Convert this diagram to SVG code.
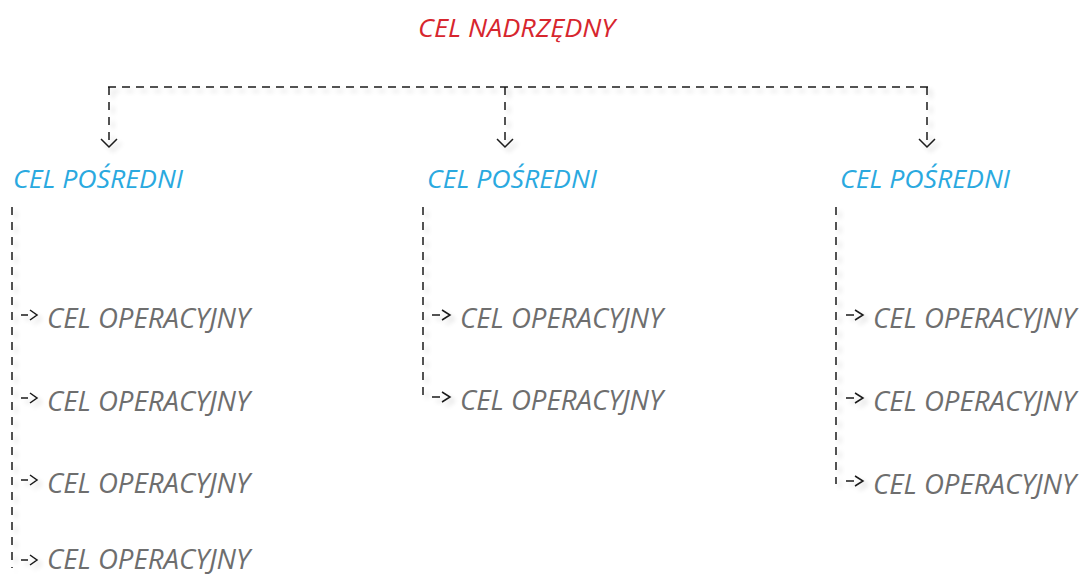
<svg xmlns="http://www.w3.org/2000/svg" width="1081" height="576" viewBox="0 0 1081 576">
<style>
.t{font-family:"Open Sans","Liberation Sans",sans-serif;font-style:italic;}
.top{fill:#d7262e;font-size:26px;}
.mid{fill:#2aa9df;font-size:25px;}
.op{fill:#6e6e6e;font-size:28px;}
.ln{fill:none;stroke:#1a1a1a;stroke-width:1.5;}
.dh{stroke-dasharray:8 6;}
.dv{stroke-dasharray:8 7;}
</style>
<defs>
<filter id="sh" x="-5%" y="-5%" width="110%" height="110%">
<feGaussianBlur in="SourceAlpha" stdDeviation="2.5"/>
<feOffset dx="4" dy="4" result="b"/>
<feComponentTransfer><feFuncA type="linear" slope="0.18"/></feComponentTransfer>
<feMerge><feMergeNode/><feMergeNode in="SourceGraphic"/></feMerge>
</filter>
</defs>
<rect width="1081" height="576" fill="#ffffff"/>
<g id="connectors" filter="url(#sh)">
<path class="ln dh" d="M108 87 H928"/>
<path class="ln dv" d="M109 87 V144"/>
<path class="ln dv" d="M505 87 V144"/>
<path class="ln dv" d="M927 87 V144"/>
<path class="ln" d="M101 139 L109 147 L117 139"/>
<path class="ln" d="M497 139 L505 147 L513 139"/>
<path class="ln" d="M919 139 L927 147 L935 139"/>
<path class="ln dv" d="M12 207 V568"/>
<path class="ln dv" d="M423 207 V399"/>
<path class="ln dv" d="M836 207 V484"/>
<g id="arrows-left">
<path class="ln" d="M21 315 H28 M30 310 L37 315 L30 320"/>
<path class="ln" d="M21 398 H28 M30 393 L37 398 L30 403"/>
<path class="ln" d="M21 480 H28 M30 475 L37 480 L30 485"/>
<path class="ln" d="M21 560 H28 M30 555 L37 560 L30 565"/>
</g>
<g id="arrows-mid">
<path class="ln" d="M432 315 H440 M442 310 L450 315 L442 320"/>
<path class="ln" d="M432 397 H440 M442 392 L450 397 L442 402"/>
</g>
<g id="arrows-right">
<path class="ln" d="M846 315 H854 M855 310 L863 315 L855 320"/>
<path class="ln" d="M846 398 H854 M855 393 L863 398 L855 403"/>
<path class="ln" d="M846 481 H854 M855 476 L863 481 L855 486"/>
</g>
</g>
<g id="cel-nadrzedny"><text class="t top" x="418" y="37" textLength="197" lengthAdjust="spacingAndGlyphs">CEL NADRZĘDNY</text></g>
<g id="posredni-1"><text class="t mid" x="13" y="188" textLength="170" lengthAdjust="spacingAndGlyphs">CEL POŚREDNI</text></g>
<g id="posredni-2"><text class="t mid" x="427" y="188" textLength="170" lengthAdjust="spacingAndGlyphs">CEL POŚREDNI</text></g>
<g id="posredni-3"><text class="t mid" x="840" y="188" textLength="170" lengthAdjust="spacingAndGlyphs">CEL POŚREDNI</text></g>
<g id="op-1-1"><text class="t op" x="47" y="328" textLength="203" lengthAdjust="spacingAndGlyphs">CEL OPERACYJNY</text></g>
<g id="op-1-2"><text class="t op" x="47" y="411" textLength="203" lengthAdjust="spacingAndGlyphs">CEL OPERACYJNY</text></g>
<g id="op-1-3"><text class="t op" x="47" y="493" textLength="203" lengthAdjust="spacingAndGlyphs">CEL OPERACYJNY</text></g>
<g id="op-1-4"><text class="t op" x="47" y="569" textLength="203" lengthAdjust="spacingAndGlyphs">CEL OPERACYJNY</text></g>
<g id="op-2-1"><text class="t op" x="460" y="328" textLength="203" lengthAdjust="spacingAndGlyphs">CEL OPERACYJNY</text></g>
<g id="op-2-2"><text class="t op" x="460" y="410" textLength="203" lengthAdjust="spacingAndGlyphs">CEL OPERACYJNY</text></g>
<g id="op-3-1"><text class="t op" x="873" y="328" textLength="203" lengthAdjust="spacingAndGlyphs">CEL OPERACYJNY</text></g>
<g id="op-3-2"><text class="t op" x="873" y="411" textLength="203" lengthAdjust="spacingAndGlyphs">CEL OPERACYJNY</text></g>
<g id="op-3-3"><text class="t op" x="873" y="494" textLength="203" lengthAdjust="spacingAndGlyphs">CEL OPERACYJNY</text></g>
</svg>
